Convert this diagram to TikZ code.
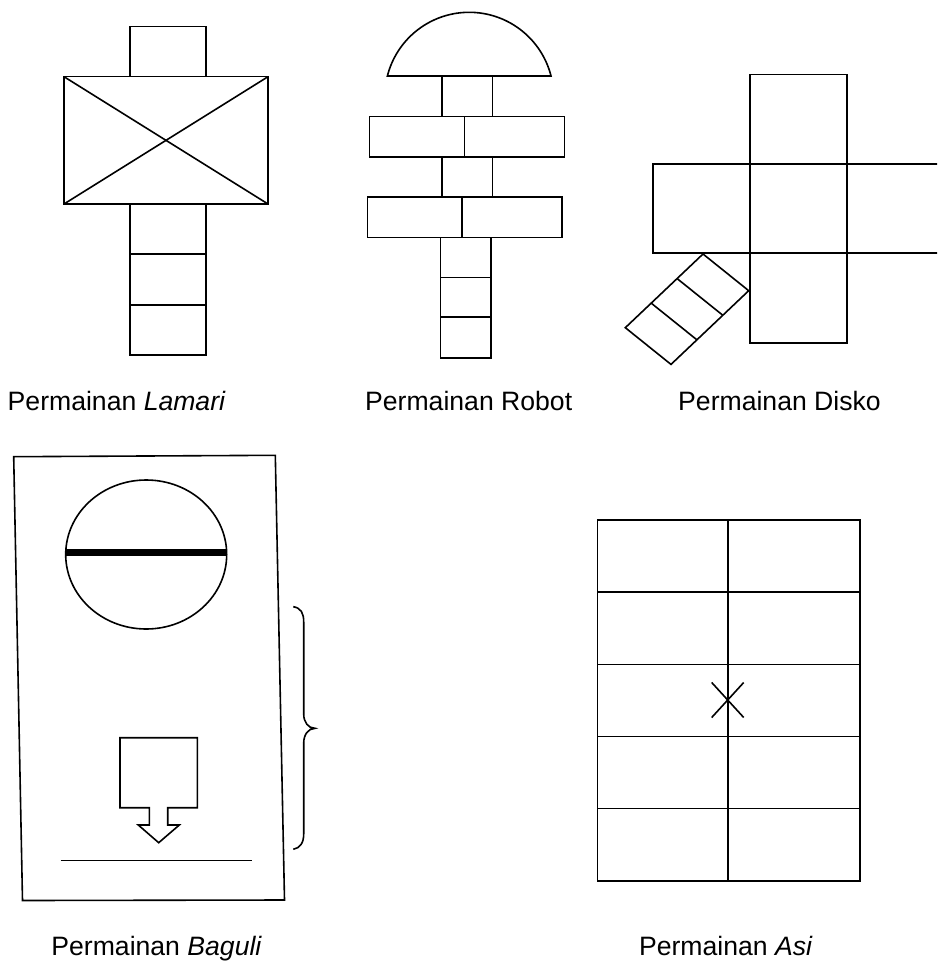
\documentclass[tikz,border=0pt]{standalone}
\usepackage{fontspec}
\setmainfont{Liberation Sans}
\usetikzlibrary{calc}
\tikzset{
  shape line/.style={draw=black, line width=1.6pt, line join=miter},
  label text/.style={font=\fontsize{26.6}{32}\selectfont, anchor=base, inner sep=0pt}
}
\begin{document}
\begin{tikzpicture}[x=1pt,y=-1pt]
\useasboundingbox (0,0) rectangle (937,963);

% ---------- Permainan Lamari ----------
\draw[shape line] (129.7,26.7) rectangle (206,76.7);
\draw[shape line] (64,76.7) rectangle (268,204);
\draw[shape line] (64,76.7) -- (268,204);
\draw[shape line] (64,204) -- (268,76.7);
\draw[shape line] (129.7,204) rectangle (206,355);
\draw[shape line] (129.7,254) -- (206,254);
\draw[shape line] (129.7,305) -- (206,305);
\node[label text] (lamari) at (116.7,410.7) {Permainan \textit{Lamari}};

% ---------- Permainan Robot ----------
\draw[shape line] plot[domain=194.2:345.8, samples=80] ({469.2+84.4*cos(\x)},{96.7+84.4*sin(\x)}) -- cycle;
\draw[shape line] (441.7,76.7) rectangle (492.3,116.7);
\draw[shape line] (369.3,116.7) rectangle (564.3,156.7);
\draw[shape line] (464.3,116.7) -- (464.3,156.7);
\draw[shape line] (441.7,156.7) rectangle (492.3,196.7);
\draw[shape line] (367.3,196.7) rectangle (562,237.3);
\draw[shape line] (462,196.7) -- (462,237.3);
\draw[shape line] (440.3,237.3) rectangle (491,357.7);
\draw[shape line] (440.3,277.3) -- (491,277.3);
\draw[shape line] (440.3,316.7) -- (491,316.7);
\node[label text] (robot) at (468.7,410.7) {Permainan Robot};

% ---------- Permainan Disko ----------
\begin{scope}
\clip (0,0) rectangle (937,963);
\draw[shape line] (750,74.7) rectangle (847,164);
\draw[shape line] (653,164) rectangle (750,252.7);
\draw[shape line] (750,164) rectangle (847,252.7);
\draw[shape line] (847,164) rectangle (960,252.7);
\draw[shape line] (750,252.7) rectangle (847,342.7);
\end{scope}
\coordinate (dT) at (703,254);
\coordinate (dR) at (748.7,290.7);
\coordinate (dB) at (671,364.4);
\coordinate (dL) at (625.3,327.7);
\draw[shape line] (dT) -- (dR) -- (dB) -- (dL) -- cycle;
\draw[shape line] ($(dT)!1/3!(dL)$) -- ($(dR)!1/3!(dB)$);
\draw[shape line] ($(dT)!2/3!(dL)$) -- ($(dR)!2/3!(dB)$);
\node[label text] (disko) at (779.5,410.7) {Permainan Disko};

% ---------- Permainan Baguli ----------
\draw[shape line] (13.7,456.7) -- (275.3,455.3) -- (284.5,900) -- (22.5,900.5) -- cycle;
\draw[shape line] (146.2,554.5) ellipse [x radius=80.5, y radius=74.5];
\draw[black, line width=7pt] (65.7,552.7) -- (226.7,552.7);
\draw[shape line] (120,737.7) -- (197.3,737.7) -- (197.3,807.7) -- (167.7,807.7)
  -- (167.7,825) -- (179.3,825) -- (158.7,842.7) -- (138.3,825) -- (149.3,825)
  -- (149.3,807.7) -- (120,807.7) -- cycle;
\draw[shape line] (60.7,860.3) -- (252.3,860.3);
\draw[shape line] (293.3,606.7) .. controls (301,608) and (303.7,613) .. (303.7,622)
  -- (303.7,714) .. controls (303.7,722) and (308,728.3) .. (315,728.3)
  .. controls (308,728.3) and (303.7,735) .. (303.7,743)
  -- (303.7,834) .. controls (303.7,843) and (300,848) .. (293.3,849.3);
\node[label text] (baguli) at (156.7,955.5) {Permainan \textit{Baguli}};

% ---------- Permainan Asi ----------
\draw[shape line] (597.3,520) rectangle (859.7,880.7);
\draw[shape line] (727.7,520) -- (727.7,880.7);
\foreach \yy in {592.1,664.3,736.4,808.5}
  \draw[shape line] (597.3,\yy) -- (859.7,\yy);
\draw[shape line] (711.7,682.5) -- (743.7,717.5);
\draw[shape line] (711.7,717.5) -- (743.7,682.5);
\node[label text] (asi) at (725.8,955.5) {Permainan \textit{Asi}};
\end{tikzpicture}
\end{document}
